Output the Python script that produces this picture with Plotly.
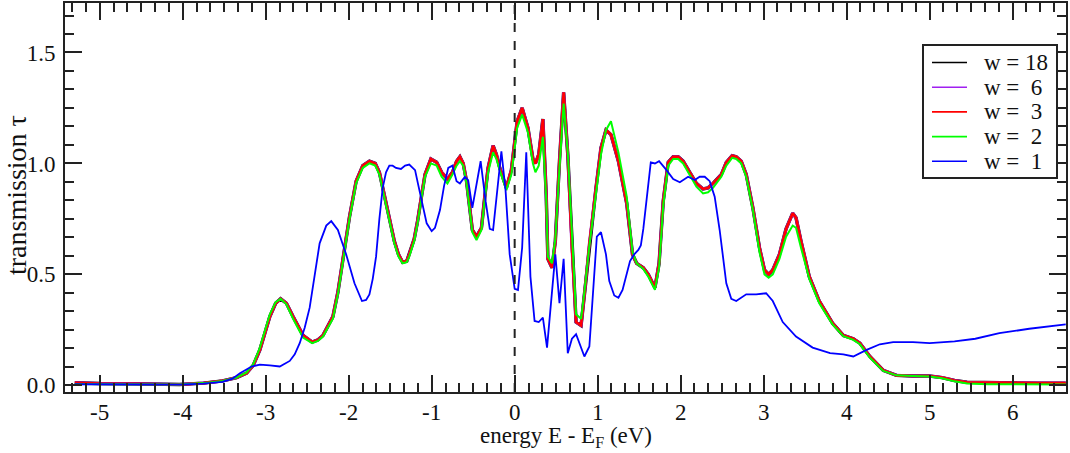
import plotly.graph_objects as go

# energy grid (eV) shared by the w = 18 / 6 / 3 / 2 curves
energy = [-5.30, -5.00, -4.60, -4.30, -4.04, -3.75, -3.52, -3.35, -3.23, -3.15,
          -3.07, -2.95, -2.88, -2.82, -2.75, -2.67, -2.55, -2.44, -2.37, -2.31,
          -2.19, -2.13, -2.07, -1.99, -1.91, -1.83, -1.75, -1.68, -1.63, -1.57,
          -1.51, -1.45, -1.40, -1.35, -1.30, -1.27, -1.21, -1.17, -1.12, -1.08,
          -1.01, -0.94, -0.88, -0.81, -0.75, -0.70, -0.66, -0.62, -0.58, -0.54,
          -0.51, -0.46, -0.40, -0.36, -0.32, -0.26, -0.22, -0.18, -0.14, -0.10,
          -0.04, 0.03, 0.09, 0.16, 0.22, 0.25, 0.29, 0.34, 0.38, 0.40,
          0.45, 0.49, 0.54, 0.59, 0.64, 0.69, 0.74, 0.80, 0.84, 0.90,
          0.98, 1.04, 1.10, 1.16, 1.25, 1.35, 1.42, 1.47, 1.55, 1.61,
          1.69, 1.74, 1.79, 1.85, 1.91, 1.97, 2.03, 2.11, 2.19, 2.27,
          2.33, 2.39, 2.49, 2.55, 2.62, 2.67, 2.73, 2.79, 2.87, 2.95,
          3.01, 3.06, 3.11, 3.19, 3.27, 3.35, 3.39, 3.45, 3.55, 3.67,
          3.83, 3.96, 4.08, 4.16, 4.28, 4.44, 4.60, 4.80, 5.00, 5.15,
          5.30, 5.45, 5.70, 6.00, 6.30, 6.64]

# w = 18, 6 and 3 lie on top of each other
t_wide = [0.012, 0.008, 0.007, 0.004, 0.004, 0.010, 0.020, 0.035, 0.055, 0.090,
          0.160, 0.310, 0.370, 0.390, 0.370, 0.310, 0.225, 0.195, 0.205, 0.225,
          0.310, 0.420, 0.560, 0.760, 0.920, 0.990, 1.010, 1.000, 0.960, 0.860,
          0.760, 0.650, 0.590, 0.555, 0.560, 0.590, 0.660, 0.740, 0.860, 0.950,
          1.020, 1.005, 0.960, 0.930, 0.960, 1.010, 1.030, 1.000, 0.920, 0.800,
          0.700, 0.670, 0.710, 0.850, 0.980, 1.080, 1.040, 0.980, 0.930, 0.890,
          0.970, 1.190, 1.250, 1.160, 1.020, 1.000, 1.040, 1.200, 0.860, 0.570,
          0.530, 0.650, 1.010, 1.320, 1.040, 0.620, 0.285, 0.270, 0.410, 0.640,
          0.890, 1.070, 1.150, 1.130, 1.010, 0.820, 0.590, 0.550, 0.530, 0.500,
          0.440, 0.550, 0.830, 1.005, 1.030, 1.030, 1.010, 0.960, 0.910, 0.885,
          0.890, 0.910, 0.950, 1.005, 1.035, 1.030, 1.010, 0.950, 0.800, 0.620,
          0.520, 0.500, 0.520, 0.590, 0.705, 0.776, 0.755, 0.650, 0.490, 0.380,
          0.280, 0.225, 0.210, 0.190, 0.130, 0.068, 0.045, 0.042, 0.042, 0.035,
          0.022, 0.014, 0.012, 0.011, 0.010, 0.010]

t_w2 = [0.006, 0.006, 0.006, 0.004, 0.004, 0.010, 0.020, 0.035, 0.058, 0.095,
        0.170, 0.320, 0.375, 0.390, 0.365, 0.300, 0.215, 0.190, 0.200, 0.220,
        0.300, 0.410, 0.550, 0.750, 0.910, 0.980, 1.000, 0.990, 0.950, 0.850,
        0.750, 0.640, 0.580, 0.550, 0.555, 0.580, 0.650, 0.730, 0.850, 0.940,
        1.000, 0.990, 0.940, 0.910, 0.950, 0.990, 1.010, 0.990, 0.910, 0.780,
        0.690, 0.655, 0.700, 0.840, 0.960, 1.050, 1.020, 0.970, 0.920, 0.880,
        0.950, 1.160, 1.220, 1.140, 1.000, 0.960, 0.990, 1.120, 0.840, 0.580,
        0.550, 0.660, 0.980, 1.270, 1.050, 0.650, 0.320, 0.300, 0.420, 0.630,
        0.860, 1.040, 1.150, 1.190, 1.050, 0.850, 0.600, 0.550, 0.525, 0.490,
        0.430, 0.530, 0.810, 0.990, 1.020, 1.020, 1.000, 0.950, 0.895, 0.865,
        0.870, 0.890, 0.940, 0.990, 1.025, 1.020, 1.000, 0.940, 0.790, 0.600,
        0.500, 0.485, 0.500, 0.570, 0.670, 0.720, 0.710, 0.620, 0.480, 0.370,
        0.275, 0.222, 0.205, 0.185, 0.125, 0.065, 0.045, 0.042, 0.040, 0.032,
        0.018, 0.008, 0.005, 0.005, 0.004, 0.004]

energy_w1 = [-5.30, -4.80, -4.30, -4.04, -3.75, -3.52, -3.40, -3.31, -3.17, -3.07,
             -2.95, -2.83, -2.71, -2.65, -2.59, -2.53, -2.47, -2.41, -2.35, -2.27,
             -2.21, -2.13, -2.03, -1.93, -1.84, -1.79, -1.75, -1.71, -1.67, -1.63,
             -1.59, -1.55, -1.51, -1.47, -1.43, -1.37, -1.32, -1.27, -1.20, -1.16,
             -1.12, -1.06, -1.00, -0.96, -0.90, -0.85, -0.80, -0.75, -0.70, -0.66,
             -0.60, -0.56, -0.51, -0.46, -0.41, -0.35, -0.30, -0.26, -0.21, -0.16,
             -0.11, -0.06, 0.00, 0.04, 0.09, 0.14, 0.19, 0.24, 0.29, 0.34,
             0.39, 0.44, 0.49, 0.54, 0.59, 0.64, 0.69, 0.74, 0.80, 0.84,
             0.90, 0.94, 0.99, 1.04, 1.10, 1.14, 1.20, 1.25, 1.30, 1.39,
             1.44, 1.49, 1.52, 1.55, 1.60, 1.64, 1.69, 1.74, 1.83, 1.91,
             1.99, 2.09, 2.17, 2.23, 2.29, 2.35, 2.41, 2.47, 2.55, 2.61,
             2.67, 2.73, 2.79, 2.91, 3.03, 3.11, 3.17, 3.23, 3.39, 3.59,
             3.80, 3.96, 4.08, 4.16, 4.24, 4.40, 4.56, 4.80, 5.00, 5.30,
             5.55, 5.84, 6.20, 6.64]

t_w1 = [0.005, 0.005, 0.003, 0.003, 0.008, 0.016, 0.030, 0.055, 0.085, 0.093,
        0.090, 0.085, 0.110, 0.140, 0.190, 0.260, 0.350, 0.500, 0.640, 0.720,
        0.740, 0.700, 0.590, 0.460, 0.380, 0.385, 0.410, 0.480, 0.580, 0.750,
        0.890, 0.960, 0.990, 0.990, 0.980, 0.975, 0.990, 0.995, 0.970, 0.900,
        0.830, 0.730, 0.695, 0.710, 0.790, 0.900, 0.980, 0.990, 0.920, 0.910,
        0.940, 0.925, 0.800, 0.910, 1.010, 0.830, 0.705, 0.700, 0.890, 1.055,
        0.880, 0.590, 0.435, 0.430, 0.620, 1.050, 0.490, 0.290, 0.285, 0.305,
        0.170, 0.380, 0.590, 0.370, 0.570, 0.145, 0.210, 0.230, 0.165, 0.130,
        0.175, 0.410, 0.670, 0.690, 0.590, 0.470, 0.405, 0.395, 0.430, 0.560,
        0.590, 0.610, 0.630, 0.705, 0.880, 1.005, 1.000, 1.010, 0.970, 0.930,
        0.915, 0.940, 0.925, 0.940, 0.940, 0.920, 0.850, 0.700, 0.460, 0.390,
        0.380, 0.395, 0.410, 0.410, 0.415, 0.380, 0.330, 0.285, 0.220, 0.170,
        0.145, 0.140, 0.130, 0.145, 0.160, 0.185, 0.195, 0.195, 0.190, 0.198,
        0.210, 0.235, 0.255, 0.275]

legend_labels = ["w = 18", "w =\u00a0\u00a06", "w =\u00a0\u00a03",
                 "w =\u00a0\u00a02", "w =\u00a0\u00a01"]
x_tickvals = [-5, -4, -3, -2, -1, 0, 1, 2, 3, 4, 5, 6]
x_ticktext = ["-5", "-4", "-3", "-2", "-1", "0", "1", "2", "3", "4", "5", "6"]
y_tickvals = [0.0, 0.5, 1.0, 1.5]
y_ticktext = ["0.0", "0.5", "1.0", "1.5"]

font_family = "Liberation Serif"
ink = "#111111"
frame = "#222222"

W, H = 1070, 453
L, R, T, B = 65, 4, 3, 61


def px(x):  # pixel column -> paper x
    return (x - L) / (W - L - R)


def py(y):  # pixel row -> paper y
    return (H - B - y) / (H - T - B)


fig = go.Figure()

# draw order as in the original: widest ribbon first, w = 1 on top
series = [
    (energy, t_wide, "#000000", 3.4),
    (energy, t_wide, "#a020f0", 3.0),
    (energy, t_wide, "#ff0000", 2.6),
    (energy, t_w2, "#00ff00", 2.0),
    (energy_w1, t_w1, "#0000ff", 1.8),
]
for lab, (xs, ys, col, lw) in zip(legend_labels, series):
    fig.add_trace(go.Scatter(x=xs, y=ys, mode="lines", name=lab,
                             line=dict(color=col, width=lw), showlegend=False))

# Fermi level
fig.add_shape(type="line", x0=0, x1=0, xref="x", y0=0, y1=1, yref="paper",
              line=dict(color=frame, width=2, dash="dash"), layer="above")

# legend box drawn by hand (xmgrace style, tight rows)
fig.add_shape(type="rect", xref="paper", yref="paper",
              x0=px(923), x1=px(1057), y0=py(178), y1=py(45),
              line=dict(color=frame, width=2), fillcolor="white", layer="above")
for i, (lab, (_, _, col, _)) in enumerate(zip(legend_labels, series)):
    yc = 62.5 + i * 24.7
    fig.add_shape(type="line", xref="paper", yref="paper",
                  x0=px(932), x1=px(967), y0=py(yc), y1=py(yc),
                  line=dict(color=col, width=1.6), layer="above")
    fig.add_annotation(xref="paper", yref="paper", x=px(982), y=py(yc),
                       text=lab, showarrow=False, xanchor="left", yanchor="middle",
                       font=dict(family=font_family, size=23, color=ink))

# axis titles as annotations so they sit where the original puts them
fig.add_annotation(xref="paper", yref="paper", x=0.5, y=py(437),
                   text="energy E - E<sub>F</sub> (eV)", showarrow=False,
                   xanchor="center", yanchor="middle",
                   font=dict(family=font_family, size=23, color=ink))
fig.add_annotation(xref="paper", yref="paper", x=px(16), y=py(195),
                   text="transmission \u03c4", showarrow=False, textangle=-90,
                   xanchor="center", yanchor="middle",
                   font=dict(family=font_family, size=28, color=ink))

axis_common = dict(
    showline=True, linecolor=frame, linewidth=2, mirror="allticks",
    ticks="inside", ticklen=17, tickwidth=2, tickcolor=frame,
    showgrid=False, zeroline=False,
    tickfont=dict(family=font_family, size=23, color=ink),
)

fig.update_xaxes(
    range=[-5.418, 6.643], tickmode="array",
    tickvals=x_tickvals, ticktext=x_ticktext, ticklabelstandoff=-2,
    minor=dict(ticks="inside", ticklen=9, tickwidth=2, tickcolor=frame,
               tick0=0, dtick=1 / 6, showgrid=False),
    **axis_common,
)
fig.update_yaxes(
    range=[-0.030, 1.723], tickmode="array",
    tickvals=y_tickvals, ticktext=y_ticktext, ticklabelstandoff=3,
    minor=dict(ticks="inside", ticklen=9, tickwidth=2, tickcolor=frame,
               tick0=0, dtick=0.5 / 6, showgrid=False),
    **axis_common,
)

fig.update_layout(
    width=W, height=H,
    margin=dict(l=L, r=R, t=T, b=B, autoexpand=False),
    paper_bgcolor="white", plot_bgcolor="white",
    font=dict(family=font_family, size=23, color=ink),
    showlegend=False,
)

# the page has a default 8px body margin; drop it so the figure fills the window
fig.write_html("out.html", config={"displayModeBar": False},
               post_script="document.body.style.margin = '0';")
